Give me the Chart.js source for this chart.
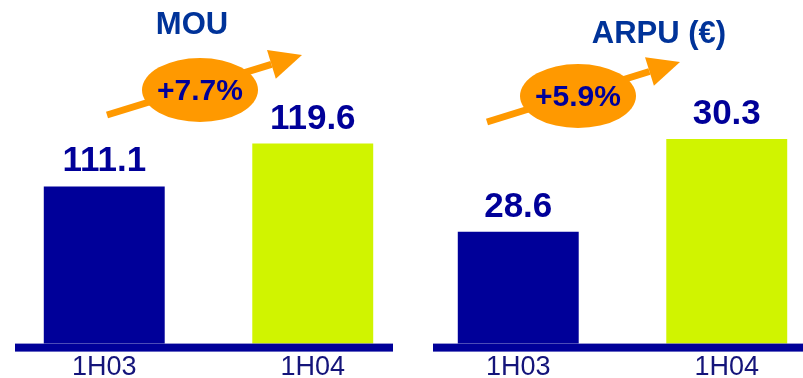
<!DOCTYPE html>
<html>
<head>
<meta charset="utf-8">
<script src="https://cdn.jsdelivr.net/npm/chart.js@4"></script>
<style>
  html, body { margin: 0; padding: 0; background: #fff; overflow: hidden; }
  #wrap { position: relative; width: 803px; height: 378px; overflow: hidden; }
  canvas { position: absolute; top: 0; }
  #mouChart { left: 0; }
  #arpuChart { left: 414px; }
</style>
</head>
<body>
<div id="wrap">
  <canvas id="mouChart" width="417" height="392"></canvas>
  <canvas id="arpuChart" width="417" height="392"></canvas>
</div>
<script>
// ─── DATA ──────────────────────────────────
const periods    = ['1H03', '1H04'];
const mouValues  = [111.1, 119.6];
const arpuValues = [28.6, 30.3];
const mouGrowth  = '+7.7%';
const arpuGrowth = '+5.9%';

const NAVY   = '#000099';
const LIME   = '#D0F400';
const ORANGE = '#FF9900';
const TITLE  = '#003399';

// titles, growth badges, value labels and the thick baseline
const decorPlugin = {
  id: 'decor',
  afterDatasetsDraw(chart, args, opts) {
    const ctx = chart.ctx;
    const area = chart.chartArea;
    ctx.save();

    // baseline
    ctx.fillStyle = NAVY;
    ctx.fillRect(area.left + opts.lineFrom, area.bottom, opts.lineTo - opts.lineFrom, 8);

    // value labels above bars
    ctx.font = 'bold 35px "Liberation Sans", Arial, sans-serif';
    ctx.textAlign = 'center';
    ctx.textBaseline = 'alphabetic';
    ctx.fillStyle = NAVY;
    const meta = chart.getDatasetMeta(0);
    meta.data.forEach((bar, i) => {
      ctx.fillText(String(chart.data.datasets[0].data[i]), bar.x, bar.y - 15);
    });

    // title
    ctx.font = 'bold 31px "Liberation Sans", Arial, sans-serif';
    ctx.fillStyle = TITLE;
    ctx.fillText(opts.title, opts.titleX, opts.titleY);

    // arrow
    const a = opts.arrow;
    const dx = a.x2 - a.x1, dy = a.y2 - a.y1;
    const len = Math.hypot(dx, dy);
    const ux = dx / len, uy = dy / len;
    const bx = a.x2 - ux * 32, by = a.y2 - uy * 32;
    ctx.strokeStyle = ORANGE;
    ctx.lineWidth = 7;
    ctx.beginPath();
    ctx.moveTo(a.x1, a.y1);
    ctx.lineTo(bx, by);
    ctx.stroke();
    ctx.fillStyle = ORANGE;
    ctx.beginPath();
    ctx.moveTo(a.x2, a.y2);
    ctx.lineTo(bx - uy * 15, by + ux * 15);
    ctx.lineTo(bx + uy * 15, by - ux * 15);
    ctx.closePath();
    ctx.fill();

    // growth badge
    const b = opts.badge;
    ctx.beginPath();
    ctx.ellipse(b.x, b.y, 58, 32, 0, 0, Math.PI * 2);
    ctx.fill();
    ctx.font = 'bold 30px "Liberation Sans", Arial, sans-serif';
    ctx.fillStyle = NAVY;
    ctx.textBaseline = 'middle';
    ctx.fillText(opts.growth, b.x, b.y + 2);

    ctx.restore();
  }
};

function buildPanel(canvasId, values, yMin, yMax, decor) {
  return new Chart(document.getElementById(canvasId), {
    type: 'bar',
    data: {
      labels: periods,
      datasets: [{
        data: values,
        backgroundColor: [NAVY, LIME],
        borderWidth: 0,
        categoryPercentage: 1,
        barPercentage: 0.58,
      }]
    },
    options: {
      responsive: false,
      animation: false,
      layout: { padding: 0 },
      plugins: {
        legend: { display: false },
        tooltip: { enabled: false },
        decor,
      },
      scales: {
        x: {
          grid: { display: false, drawTicks: false },
          border: { display: false },
          ticks: {
            color: '#14147a',
            padding: 8,
            font: { family: '"Liberation Sans", Arial, sans-serif', size: 27 },
          },
        },
        y: { display: false, min: yMin, max: yMax },
      }
    },
    plugins: [decorPlugin]
  });
}

buildPanel('mouChart', mouValues, 80, 148, {
  lineFrom: 15, lineTo: 393,
  title: 'MOU', titleX: 192, titleY: 34,
  arrow: { x1: 107, y1: 115, x2: 302, y2: 55 },
  badge: { x: 200, y: 90 },
  growth: mouGrowth,
});

buildPanel('arpuChart', arpuValues, 26.55, 32.85, {
  lineFrom: 19, lineTo: 417,
  title: 'ARPU (€)', titleX: 245, titleY: 43,
  arrow: { x1: 73, y1: 122, x2: 266, y2: 62 },
  badge: { x: 164, y: 96 },
  growth: arpuGrowth,
});
</script>
</body>
</html>
